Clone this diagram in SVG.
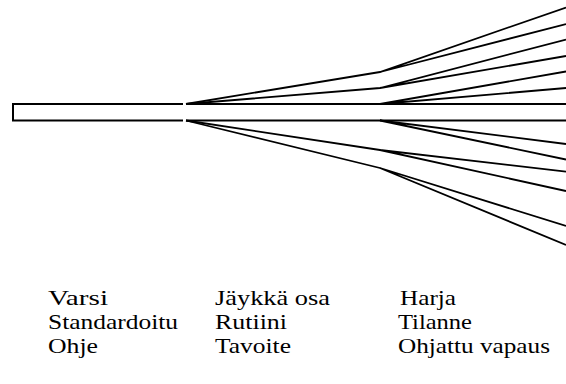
<svg xmlns="http://www.w3.org/2000/svg" width="566" height="384" viewBox="0 0 566 384">
  <style>
    .ln { fill: none; stroke: #000; stroke-width: 1.8; }
    .bar { fill: none; stroke: #000; stroke-width: 2; }
    .lbl text { font-size: 22px; fill: #000; }
  </style>
  <rect width="566" height="384" fill="#fff"/>

  <!-- stem: closed at the left end, open at the break -->
  <g id="stem">
    <path class="bar" d="M183,104 H13 V120.5 H183"/>
    <path class="bar" d="M186,104 H566 M186,120.5 H566"/>
  </g>

  <!-- fan of branches spreading above and below the stem -->
  <g id="connectors">
    <g id="fan-upper">
      <path class="ln" d="M186,104 L380,72 L566,7.5 M380,72 L566,24"/>
      <path class="ln" d="M186,104 L380,88 L566,39.5 M380,88 L566,56"/>
      <path class="ln" d="M380,104 L566,71.5 M380,104 L566,88"/>
    </g>
    <g id="fan-lower">
      <path class="ln" d="M380,120.5 L566,144 M380,120.5 L566,159.5"/>
      <path class="ln" d="M186,120.5 L380,150 L566,171.7 M380,150 L566,191"/>
      <path class="ln" d="M186,120.5 L380,168 L566,226 M380,168 L566,245"/>
    </g>
  </g>

  <!-- three label columns -->
  <g class="lbl" font-family="Liberation Serif, serif">
    <g id="col-1">
      <text x="48" y="305" textLength="60" lengthAdjust="spacingAndGlyphs">Varsi</text>
      <text x="48" y="329" textLength="130" lengthAdjust="spacingAndGlyphs">Standardoitu</text>
      <text x="48" y="353" textLength="50" lengthAdjust="spacingAndGlyphs">Ohje</text>
    </g>
    <g id="col-2">
      <text x="215" y="305" textLength="115" lengthAdjust="spacingAndGlyphs">Jäykkä  osa</text>
      <text x="215" y="329" textLength="72" lengthAdjust="spacingAndGlyphs">Rutiini</text>
      <text x="215" y="353" textLength="76" lengthAdjust="spacingAndGlyphs">Tavoite</text>
    </g>
    <g id="col-3">
      <text x="400" y="305" textLength="56" lengthAdjust="spacingAndGlyphs">Harja</text>
      <text x="398" y="329" textLength="74" lengthAdjust="spacingAndGlyphs">Tilanne</text>
      <text x="398" y="353" textLength="152" lengthAdjust="spacingAndGlyphs">Ohjattu vapaus</text>
    </g>
  </g>
</svg>
